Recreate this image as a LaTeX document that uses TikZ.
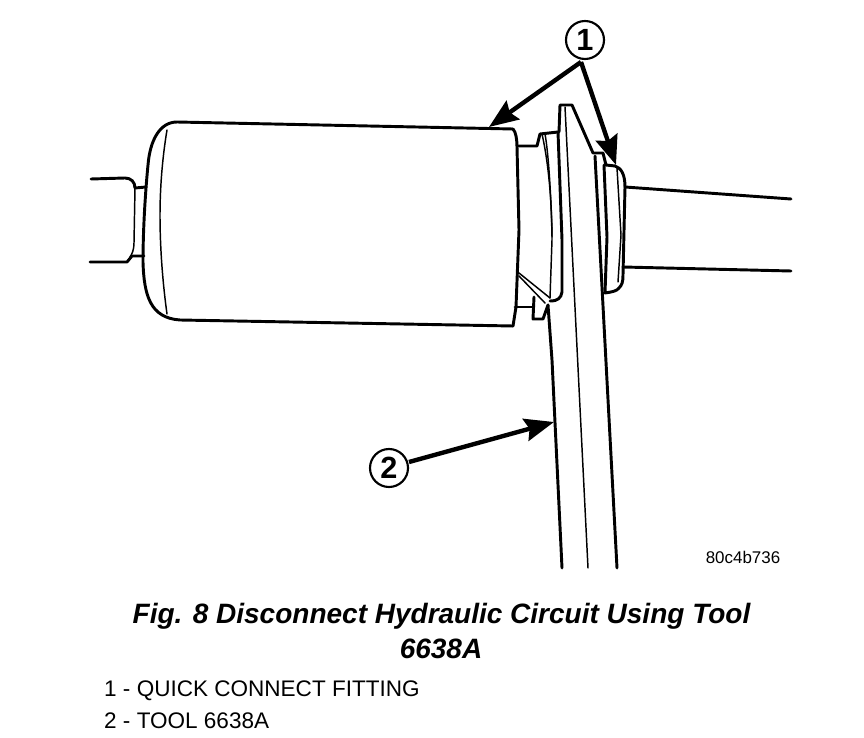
\documentclass[tikz,border=0pt]{standalone}
\usepackage{fontspec}
\setmainfont{Liberation Sans}
\usetikzlibrary{arrows.meta}
\tikzset{
  heavy/.style={draw=black,line width=2.2pt,line join=round,line cap=round},
  hair/.style={draw=black,line width=1.1pt,line join=round,line cap=round},
  callout/.style={draw=black,line width=3.3pt,-{Stealth[length=22pt,width=17pt,inset=3pt]}},
  bubble/.style={draw=black,circle,line width=1.6pt,minimum size=28.5pt,inner sep=0pt,font=\fontsize{23}{24}\selectfont\bfseries},
  caption/.style={font=\fontsize{21}{23}\selectfont\bfseries\itshape},
  legendtext/.style={font=\fontsize{16.9}{18}\selectfont,anchor=west},
  code/.style={font=\fontsize{12.7}{14}\selectfont}
}
\begin{document}
\begin{tikzpicture}[x=0.75pt,y=-0.75pt]
\useasboundingbox (0,0) rectangle (864,738);
% left pipe
\draw[heavy] (91,179) -- (125,178) .. controls (131,178) and (135,182) .. (135,188) -- (146,187);
\draw[heavy] (90,262) -- (127,262) -- (132,256) -- (144,256);
\draw[hair] (135,188) -- (134,243) .. controls (134,250) and (132,254) .. (130,257);
% cylinder outline
\draw[heavy] (513,129) -- (177,122) .. controls (160,122) and (150,140) .. (148,165)
  .. controls (146,185) and (143,225) .. (143,262)
  .. controls (144,295) and (150,318) .. (180,320) -- (513,326);
\draw[hair] (167,130) .. controls (162,160) and (160,190) .. (160,215) .. controls (160,250) and (163,285) .. (167,314);
% right edge of cylinder and step
\draw[heavy] (513,129) .. controls (516,132) and (517,140) .. (517,147) -- (519,230) -- (516,307) -- (513,326);
\draw[heavy] (517,146) -- (537,146) -- (540,134) -- (558,132);
\draw[heavy] (515,307) -- (533,307);
\draw[heavy] (534,297) -- (533,319) -- (543,319) -- (548,305);
% wedge
\draw[hair] (519,273) -- (550,298);
\draw[hair] (519,276) -- (545,303);
% ring left of tool
\draw[hair] (542,134) .. controls (548,160) and (552,200) .. (552,240) -- (550,298);
\draw[hair] (545,134) .. controls (548,150) and (551,190) .. (552,237);
\draw[heavy] (558,132) -- (562,240) -- (562,292) .. controls (561,298) and (558,301) .. (550,301);
% tool
\draw[heavy] (559,132) -- (560,105) -- (572,105) -- (593,153) -- (603,153) -- (606,165) -- (615,166)
  .. controls (621,168) and (625,174) .. (625,187);
\draw[hair] (565,107) -- (588,568);
\draw[heavy] (548,305) -- (552,360) -- (562,568);
\draw[heavy] (595,156) -- (617,568);
% ring right of tool
\draw[heavy] (604,165) -- (607,237) -- (605,293) .. controls (612,292) and (617,291) .. (619,288)
  .. controls (622,285) and (623,282) .. (623,275) -- (625,187);
\draw[hair] (617,168) -- (621,235) -- (618,282);
% right pipe
\draw[heavy] (625,187) -- (791,199);
\draw[heavy] (623,267) -- (791,271);
% callouts
\node[bubble] (c1) at (585,40) {1};
\node[bubble] (c2) at (389,468) {2};
\coordinate (apex) at (581,62);
\coordinate (t1a) at (489,127);
\coordinate (t1b) at (616,165);
\coordinate (t2) at (554,422);
\draw[callout] (apex) -- (t1a);
\draw[callout] (apex) -- (t1b);
\draw[callout] (c2) ++(20,-6) -- (t2);
% text
\node[code] (codeid) at (743,557) {80c4b736};
\node[caption] (cap1) at (441.5,616) {Fig. 8 Disconnect Hydraulic Circuit Using Tool};
\node[caption] (cap2) at (441,649) {6638A};
\node[legendtext] (leg1) at (99.5,691) {1 - QUICK CONNECT FITTING};
\node[legendtext] (leg2) at (99.5,721) {2 - TOOL 6638A};
\end{tikzpicture}
\end{document}
